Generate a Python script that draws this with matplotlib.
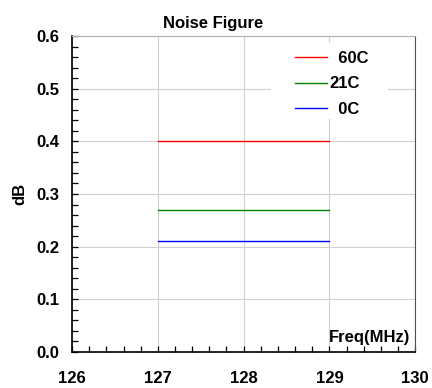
import matplotlib
matplotlib.use("Agg")
import matplotlib.pyplot as plt
from matplotlib.ticker import MultipleLocator
from matplotlib.patches import Rectangle

plt.rcParams['font.family'] = ['Liberation Sans', 'DejaVu Sans']
plt.rcParams['font.weight'] = 'bold'

# data
freq = [127, 129]
series_names = ['  60C', '21C', '  0C']   # original legend has uneven label indents
series_vals = [0.40, 0.27, 0.21]
series_colors = ['#ff0000', '#008000', '#0000ff']
x_ticks = [126, 127, 128, 129, 130]
y_ticks = [0.0, 0.1, 0.2, 0.3, 0.4, 0.5, 0.6]

FS = 12

fig = plt.figure(figsize=(4.32, 3.88), dpi=100)
ax = fig.add_axes([0.167, 0.093, 0.794, 0.814])

for name, val, col in zip(series_names, series_vals, series_colors):
    ax.plot(freq, [val, val], color=col, lw=1.0, label=name, zorder=3)

ax.set_xlim(126, 130)
ax.set_ylim(0, 0.6)
ax.set_xticks(x_ticks)
ax.set_yticks(y_ticks)
ax.set_xticklabels([str(t) for t in x_ticks])
ax.set_yticklabels([f'{t:.1f}' for t in y_ticks])
ax.xaxis.set_minor_locator(MultipleLocator(0.2))
ax.yaxis.set_minor_locator(MultipleLocator(0.02))

ax.grid(True, which='major', color='#d0d0d0', lw=0.8)
ax.set_axisbelow(True)

ax.tick_params(axis='x', which='both', direction='in', labelsize=FS, pad=14)
ax.tick_params(axis='y', which='both', direction='in', labelsize=FS, pad=9)
ax.tick_params(which='both', length=4, width=0.9)
ax.tick_params(top=False, right=False)

for s in ['left', 'bottom']:
    ax.spines[s].set_color('black')
    ax.spines[s].set_linewidth(1.2)
ax.spines['top'].set_color('#b0b0b0')
ax.spines['right'].set_color('#505050')

ax.set_title('Noise Figure', fontsize=FS, fontweight='bold', x=0.41, pad=6)
ax.set_ylabel('dB', fontsize=FS, fontweight='bold', labelpad=7)
ax.text(0.985, 0.022, 'Freq(MHz)', transform=ax.transAxes, ha='right', va='bottom',
        fontsize=FS, fontweight='bold')

# white patch behind the legend (hides gridlines like the original)
ax.add_patch(Rectangle((0.581, 0.737), 0.341, 0.241, transform=ax.transAxes,
                       facecolor='white', edgecolor='none', zorder=2))

leg = ax.legend(loc='upper left', bbox_to_anchor=(0.651, 0.953), frameon=False,
                fontsize=FS, handlelength=1.9, handletextpad=0.12, labelspacing=0.63,
                borderpad=0, borderaxespad=0)

fig.savefig('out.png', dpi=100)
